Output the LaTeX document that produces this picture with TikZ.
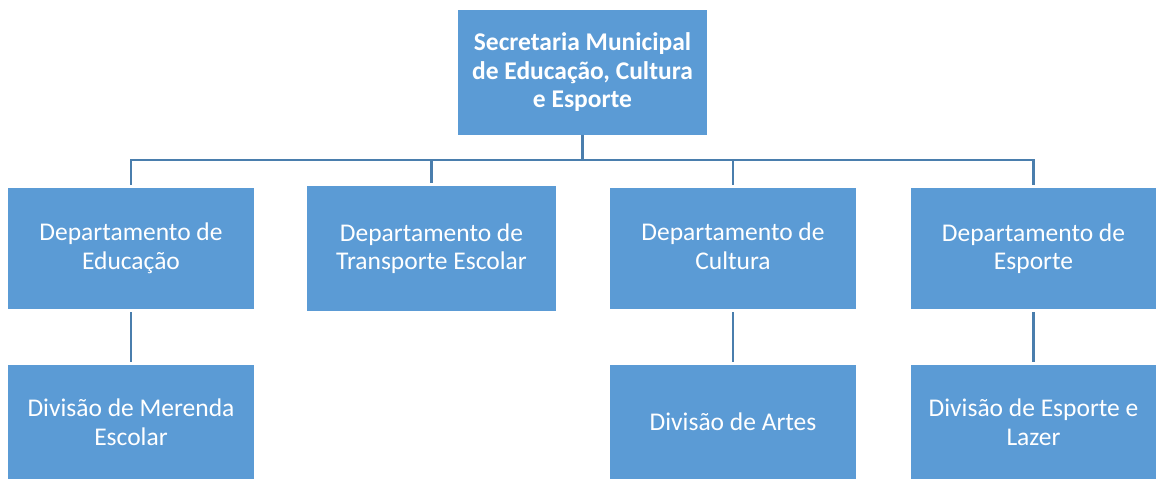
\documentclass[tikz,border=0pt]{standalone}
\usepackage{fontspec}
\setmainfont{Carlito}
\definecolor{boxblue}{HTML}{5B9BD5}
\definecolor{linkblue}{HTML}{4A7EAD}
\begin{document}
\begin{tikzpicture}[x=1pt,y=-1pt,
  unit/.style={fill=boxblue,text=white,inner sep=0pt,align=center,
    font=\fontsize{25.5}{28.5}\selectfont},
  link/.style={draw=linkblue,line width=2.6pt}]
\useasboundingbox (0,0) rectangle (1156,479);
\node[unit,minimum width=249pt,minimum height=124.5pt,font=\fontsize{25.5}{28.5}\selectfont\bfseries] (top) at (582.5,72.25)
  {Secretaria Municipal\\de Educação, Cultura\\e Esporte};
\node[unit,minimum width=246pt,minimum height=121pt] (d1) at (131,248.5) {Departamento de\\Educação};
\node[unit,minimum width=249pt,minimum height=125pt] (d2) at (431.5,248.5) {Departamento de\\Transporte Escolar};
\node[unit,minimum width=246pt,minimum height=121pt] (d3) at (733,248.5) {Departamento de\\Cultura\vphantom{ç}};
\node[unit,minimum width=245pt,minimum height=121pt] (d4) at (1033.5,248.5) {Departamento de\\Esporte};
\node[unit,minimum width=246pt,minimum height=114pt] (v1) at (131,422) {Divisão de Merenda\\Escolar};
\node[unit,minimum width=246pt,minimum height=114pt] (v3) at (733,422) {Divisão de Artes};
\node[unit,minimum width=245pt,minimum height=114pt] (v4) at (1033.5,422) {Divisão de Esporte e\\Lazer};
\coordinate (bus) at (582.5,160);
\draw[link] (top.south) -- (bus);
\draw[link,shorten >=3pt] (bus) -| (d1.north);
\draw[link,shorten >=3pt] (bus) -| (d2.north);
\draw[link,shorten >=3pt] (bus) -| (d3.north);
\draw[link,shorten >=3pt] (bus) -| (d4.north);
\draw[link,shorten <=3pt,shorten >=3pt] (d1.south) -- (v1.north);
\draw[link,shorten <=3pt,shorten >=3pt] (d3.south) -- (v3.north);
\draw[link,shorten <=3pt,shorten >=3pt] (d4.south) -- (v4.north);
\end{tikzpicture}
\end{document}
